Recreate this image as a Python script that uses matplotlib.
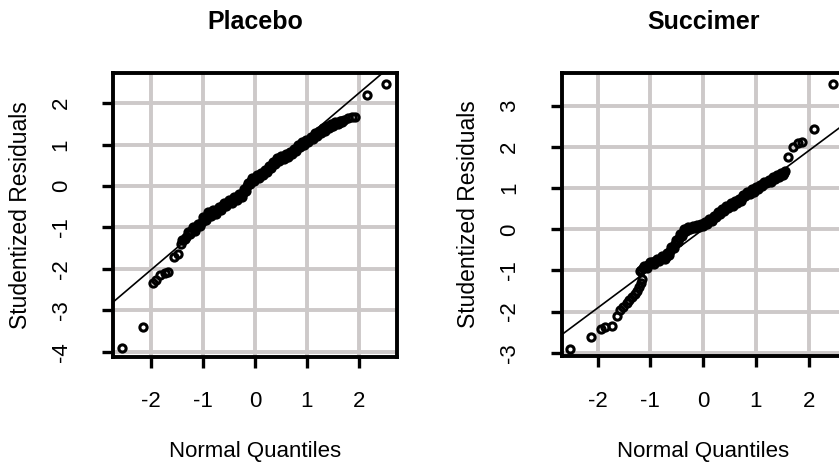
import matplotlib
matplotlib.use("Agg")
import matplotlib.pyplot as plt

plt.rcParams['font.family'] = ['Liberation Sans', 'DejaVu Sans']

# ---------------- data ----------------
titles = ["Placebo", "Succimer"]
x_label = "Normal Quantiles"
y_label = "Studentized Residuals"
x_ticks = [-2, -1, 0, 1, 2]
placebo_yticks = [-4, -3, -2, -1, 0, 1, 2]
succimer_yticks = [-3, -2, -1, 0, 1, 2, 3]

placebo_q = [-2.57, -2.15, -1.96, -1.90, -1.83, -1.74, -1.67, -1.56, -1.48,
             -1.43, -1.38, -1.33, -1.28, -1.23, -1.18, -1.13, -1.08, -1.03, -0.98,
             -0.93, -0.88, -0.83, -0.78, -0.73, -0.68, -0.63, -0.58, -0.53, -0.48,
             -0.43, -0.38, -0.33, -0.28, -0.23, -0.19, -0.15, -0.11, -0.07, -0.03,
             0.01, 0.05, 0.09, 0.13, 0.17, 0.21, 0.25, 0.29, 0.33, 0.37,
             0.41, 0.45, 0.49, 0.53, 0.57, 0.61, 0.65, 0.69, 0.73, 0.77,
             0.81, 0.85, 0.89, 0.93, 0.97, 1.01, 1.05, 1.09, 1.13, 1.17,
             1.21, 1.25, 1.29, 1.33, 1.37, 1.41, 1.45, 1.49, 1.53, 1.57,
             1.61, 1.66, 1.71, 1.80, 1.87, 1.93, 2.15, 2.52]
placebo_r = [-3.92, -3.41, -2.34, -2.28, -2.15, -2.10, -2.07, -1.72, -1.64,
             -1.40, -1.30, -1.22, -1.14, -1.08, -1.04, -1.00, -0.95, -0.86, -0.78,
             -0.72, -0.68, -0.65, -0.63, -0.60, -0.54, -0.49, -0.45, -0.41, -0.37,
             -0.34, -0.31, -0.28, -0.24, -0.18, -0.08, 0.00, 0.07, 0.12, 0.16,
             0.20, 0.23, 0.26, 0.29, 0.32, 0.37, 0.42, 0.46, 0.50, 0.56,
             0.61, 0.64, 0.66, 0.68, 0.71, 0.74, 0.77, 0.80, 0.83, 0.87,
             0.92, 0.97, 1.01, 1.03, 1.06, 1.09, 1.12, 1.16, 1.21, 1.24,
             1.27, 1.30, 1.33, 1.37, 1.40, 1.42, 1.44, 1.46, 1.49, 1.51,
             1.53, 1.56, 1.59, 1.64, 1.66, 1.67, 2.20, 2.46]
# further points read along the upper / lower edge of the dense band
placebo_band_q = [-1.41, -1.35, -1.30, -1.25, -1.20, -1.15, -1.10, -1.05, -1.00, -0.95,
                  -0.90, -0.85, -0.80, -0.75, -0.70, -0.65, -0.60, -0.55, -0.50, -0.45,
                  -0.40, -0.35, -0.30, -0.25, -0.21, -0.17, -0.13, -0.09, -0.05, -0.01,
                  0.03, 0.07, 0.11, 0.15, 0.19, 0.23, 0.27, 0.31, 0.35, 0.39,
                  0.43, 0.47, 0.51, 0.55, 0.59, 0.63, 0.67, 0.71, 0.75, 0.79,
                  0.83, 0.87, 0.91, 0.95, 0.99, 1.03, 1.07, 1.11, 1.15, 1.19,
                  1.23, 1.27, 1.31, 1.35, 1.39, 1.43, 1.47, 1.51, 1.55, 1.59,
                  1.63, 1.68]
placebo_band_r = [-1.30, -1.28, -1.12, -1.17, -1.00, -1.08, -0.92, -0.97, -0.74, -0.82,
                  -0.63, -0.72, -0.58, -0.68, -0.50, -0.58, -0.41, -0.49, -0.33, -0.41,
                  -0.27, -0.35, -0.20, -0.27, -0.08, -0.12, 0.08, 0.04, 0.19, 0.13,
                  0.26, 0.19, 0.32, 0.26, 0.39, 0.34, 0.49, 0.43, 0.58, 0.53,
                  0.68, 0.60, 0.72, 0.64, 0.77, 0.71, 0.83, 0.77, 0.90, 0.84,
                  0.99, 0.94, 1.07, 0.99, 1.12, 1.05, 1.19, 1.13, 1.27, 1.21,
                  1.33, 1.27, 1.39, 1.33, 1.45, 1.39, 1.50, 1.44, 1.54, 1.49,
                  1.57, 1.55]

succimer_q = [-2.53, -2.12, -1.93, -1.86, -1.72, -1.64, -1.57, -1.52, -1.45,
              -1.40, -1.34, -1.29, -1.25, -1.21, -1.18, -1.16,
              -1.20, -1.14, -1.08, -1.02, -0.96, -0.91, -0.86, -0.81, -0.76,
              -0.71, -0.66, -0.62, -0.58, -0.54, -0.50, -0.46, -0.42, -0.38,
              -0.34, -0.30, -0.26, -0.22, -0.18, -0.14, -0.10, -0.06, -0.02,
              0.02, 0.06, 0.10, 0.14, 0.18, 0.22, 0.26, 0.30, 0.34, 0.38,
              0.42, 0.46, 0.50, 0.54, 0.58, 0.62, 0.66, 0.70, 0.74, 0.78,
              0.82, 0.86, 0.90, 0.94, 0.98, 1.02, 1.06, 1.10, 1.14, 1.18,
              1.22, 1.26, 1.30, 1.34, 1.38, 1.42, 1.46, 1.50, 1.54,
              1.61, 1.71, 1.80, 1.87, 2.10, 2.46]
succimer_r = [-2.90, -2.61, -2.43, -2.38, -2.35, -2.11, -1.97, -1.88, -1.78,
              -1.72, -1.64, -1.56, -1.50, -1.40, -1.30, -1.20,
              -1.02, -0.95, -0.90, -0.85, -0.80, -0.78, -0.75, -0.72, -0.70,
              -0.67, -0.60, -0.52, -0.44, -0.36, -0.28, -0.20, -0.14, -0.08,
              -0.03, 0.00, 0.02, 0.04, 0.05, 0.07, 0.08, 0.10, 0.11,
              0.13, 0.16, 0.19, 0.23, 0.27, 0.31, 0.35, 0.39, 0.43, 0.47,
              0.51, 0.55, 0.58, 0.61, 0.64, 0.66, 0.69, 0.72, 0.77, 0.82,
              0.86, 0.89, 0.92, 0.95, 0.98, 1.01, 1.04, 1.07, 1.10, 1.13,
              1.15, 1.18, 1.21, 1.24, 1.27, 1.30, 1.32, 1.34, 1.37,
              1.77, 2.01, 2.10, 2.13, 2.43, 3.54]
succimer_band_q = [-1.17, -1.12, -1.06, -1.00, -0.94, -0.88, -0.83, -0.78, -0.73, -0.68,
                   -0.64, -0.60, -0.56, -0.52, -0.48, -0.44, -0.40, -0.36, -0.32, -0.28,
                   -0.24, -0.20, -0.16, -0.12, -0.08, -0.04, 0.00, 0.04, 0.08, 0.12,
                   0.16, 0.20, 0.24, 0.28, 0.32, 0.36, 0.40, 0.44, 0.48, 0.52,
                   0.56, 0.60, 0.64, 0.68, 0.72, 0.76, 0.80, 0.84, 0.88, 0.92,
                   0.96, 1.00, 1.04, 1.08, 1.12, 1.16, 1.20, 1.24, 1.28, 1.32,
                   1.36, 1.40, 1.44, 1.48, 1.52, 1.56]
succimer_band_r = [-1.00, -0.88, -0.93, -0.79, -0.84, -0.72, -0.78, -0.66, -0.72, -0.58,
                   -0.62, -0.42, -0.46, -0.26, -0.30, -0.11, -0.17, 0.00, -0.05, 0.06,
                   0.00, 0.08, 0.03, 0.11, 0.05, 0.14, 0.08, 0.18, 0.13, 0.24,
                   0.21, 0.32, 0.29, 0.41, 0.37, 0.49, 0.45, 0.57, 0.52, 0.63,
                   0.58, 0.69, 0.63, 0.75, 0.70, 0.83, 0.80, 0.91, 0.86, 0.97,
                   0.92, 1.03, 0.99, 1.09, 1.05, 1.15, 1.12, 1.21, 1.16, 1.27,
                   1.22, 1.33, 1.28, 1.38, 1.33, 1.42]

# reference lines: (intercept, slope)
placebo_line = (0.11, 1.065)
succimer_line = (0.0, 0.956)

# ---------------- figure ----------------
W, H = 839, 465
fig = plt.figure(figsize=(W / 100, H / 100), dpi=100)

panels = [
    dict(rect=[113.3 / W, 1 - 356.7 / H, 283.4 / W, 283.4 / H],
         q=placebo_q + placebo_band_q, r=placebo_r + placebo_band_r,
         line=placebo_line, yt=placebo_yticks,
         xlim=(-2.73, 2.73), ylim=(-4.12, 2.72), title=titles[0]),
    dict(rect=[561.7 / W, 1 - 356.0 / H, 283.4 / W, 283.3 / H],
         q=succimer_q + succimer_band_q, r=succimer_r + succimer_band_r,
         line=succimer_line, yt=succimer_yticks,
         xlim=(-2.68, 2.69), ylim=(-3.08, 3.81), title=titles[1]),
]

grid_col = "#cdc9c9"
for p in panels:
    ax = fig.add_axes(p["rect"])
    ax.set_xlim(*p["xlim"])
    ax.set_ylim(*p["ylim"])
    ax.set_xticks(x_ticks)
    ax.set_yticks(p["yt"])
    ax.set_xticklabels([str(t) for t in x_ticks])
    ax.set_yticklabels([str(t) for t in p["yt"]], rotation=90, va="center")
    ax.set_axisbelow(True)
    ax.grid(True, color=grid_col, lw=2.8)
    for s in ax.spines.values():
        s.set_linewidth(2.8)
        s.set_color("black")
    ax.tick_params(axis="both", direction="out", length=8, width=2.4,
                   labelsize=16, colors="black")
    ax.tick_params(axis="x", pad=17)
    ax.tick_params(axis="y", pad=22)

    b, m = p["line"]
    ax.axline((0, b), slope=m, color="black", lw=1.2, zorder=3)
    ax.plot(p["q"], p["r"], "o", ms=5.2, mfc="none", mec="black", mew=2.2,
            zorder=4)

    ax.text(0.5, 1.155, p["title"], transform=ax.transAxes, ha="center",
            va="baseline", fontsize=18, fontweight="bold")
    ax.text(0.5, -0.355, x_label, transform=ax.transAxes, ha="center",
            va="baseline", fontsize=16)
    ax.text(-0.329, 0.5, y_label, transform=ax.transAxes, ha="center",
            va="center", rotation=90, fontsize=16.5)

fig.savefig("out.png", dpi=100)
